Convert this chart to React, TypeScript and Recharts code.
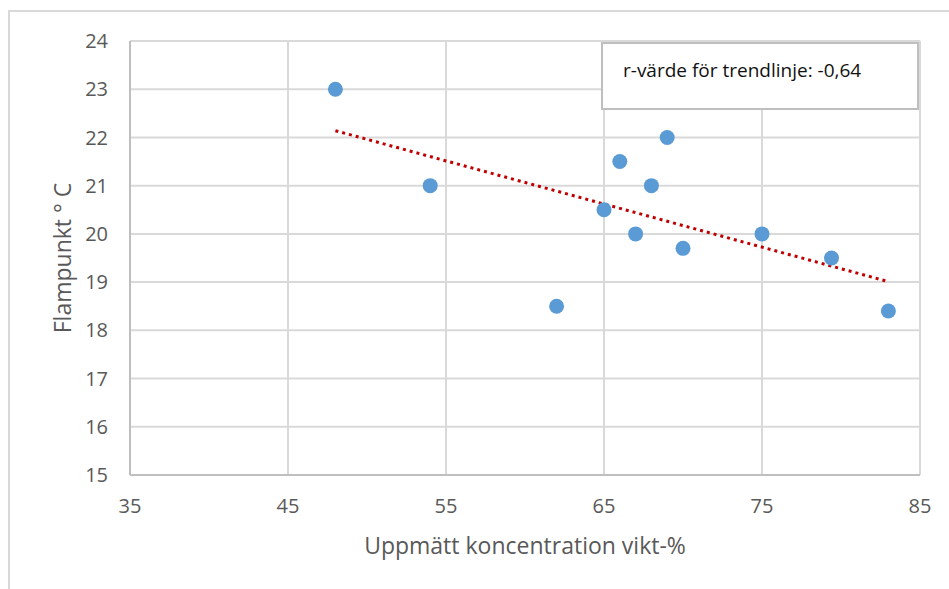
import { ScatterChart, Scatter, XAxis, YAxis, CartesianGrid, ReferenceLine, Label } from 'recharts'

// ─── Data ────────────────────────────────────────────────────────────────────

const concentration = [48, 54, 62, 65, 66, 67, 68, 69, 70, 75, 79.4, 83]
const flashPoint = [23, 21, 18.5, 20.5, 21.5, 20, 21, 22, 19.7, 20, 19.5, 18.4]

// trendline end points
const trendX = [48, 83]
const trendY = [22.14, 19.01]

const xTicks = [35, 45, 55, 65, 75, 85]
const yTicks = [15, 16, 17, 18, 19, 20, 21, 22, 23, 24]

const points = concentration.map((x, i) => ({ x, y: flashPoint[i] }))
const trendSegment = trendX.map((x, i) => ({ x, y: trendY[i] }))

const FONT = '"Open Sans", sans-serif'
const TICK = { fontSize: 20, fill: '#595959', fontFamily: FONT }

export default function App() {
  return (
    <div style={{ position: 'absolute', left: 0, top: 0, width: 949, height: 589, overflow: 'hidden', background: '#fff' }}>
      {/* outer chart frame */}
      <div style={{ position: 'absolute', left: 8, top: 10, width: 1000, height: 1000, border: '2px solid #d9d9d9' }} />

      <ScatterChart width={949} height={589} margin={{ top: 41, right: 29, bottom: 0, left: 0 }}>
        <CartesianGrid stroke="#d9d9d9" strokeWidth={2} horizontalValues={yTicks} verticalValues={xTicks} />
        <XAxis
          type="number"
          dataKey="x"
          domain={[35, 85]}
          ticks={xTicks}
          height={114}
          tickSize={0}
          tickMargin={24}
          tickLine={false}
          axisLine={{ stroke: '#bfbfbf', strokeWidth: 2 }}
          tick={TICK}
        >
          <Label
            value="Uppmätt koncentration vikt-%"
            position="insideTop"
            offset={63}
            style={{ fontSize: 23, fill: '#595959', fontFamily: FONT }}
          />
        </XAxis>
        <YAxis
          type="number"
          dataKey="y"
          domain={[15, 24]}
          ticks={yTicks}
          width={130}
          tickSize={0}
          tickMargin={22}
          tickLine={false}
          axisLine={{ stroke: '#bfbfbf', strokeWidth: 2 }}
          tick={TICK}
        >
          <Label
            value="Flampunkt ° C"
            angle={-90}
            position="insideLeft"
            offset={63}
            style={{ fontSize: 23, fill: '#595959', fontFamily: FONT, textAnchor: 'middle' }}
          />
        </YAxis>
        <ReferenceLine
          segment={trendSegment}
          stroke="#c00000"
          strokeWidth={3}
          strokeDasharray="3 4"
          ifOverflow="visible"
        />
        <Scatter data={points} fill="#5b9bd5" isAnimationActive={false} shape={(p: any) => <circle cx={p.cx} cy={p.cy} r={7.5} fill="#5b9bd5" />} />
      </ScatterChart>

      {/* r-value text box */}
      <div
        style={{
          position: 'absolute',
          left: 601,
          top: 42,
          width: 318,
          height: 68,
          border: '2px solid #bfbfbf',
          background: '#fff',
          fontFamily: FONT,
          fontSize: 19,
          lineHeight: '24px',
          color: '#111',
          padding: '14px 0 0 20px',
          boxSizing: 'border-box',
          whiteSpace: 'nowrap',
        }}
      >
        r-värde för trendlinje: -0,64
      </div>
    </div>
  )
}
